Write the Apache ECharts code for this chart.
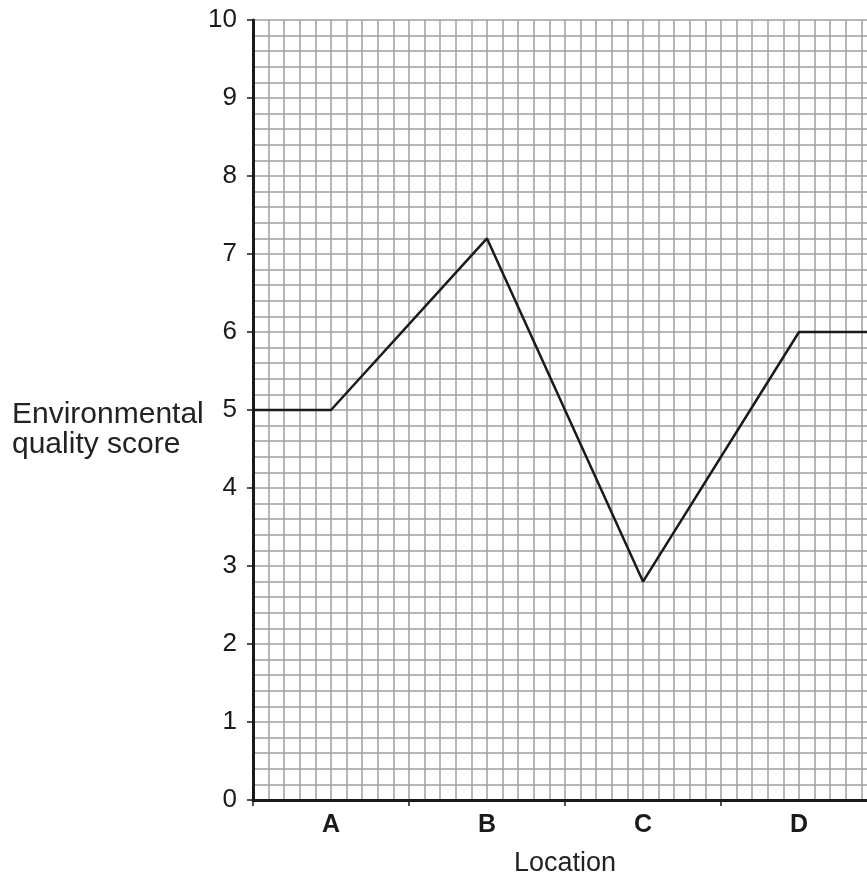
<!DOCTYPE html>
<html>
<head>
<meta charset="utf-8">
<script src="https://cdn.jsdelivr.net/npm/echarts@6/dist/echarts.min.js"></script>
<style>html,body{margin:0;padding:0;background:#fff;}#c{width:867px;height:879px;}</style>
</head>
<body>
<div id="c"></div>
<script>
var locations = ['A', 'B', 'C', 'D'];
var scores = [5, 7.2, 2.8, 6];
var yTicks = [0, 1, 2, 3, 4, 5, 6, 7, 8, 9, 10];

// Each location sits at the middle of its band (value-axis units: 2 per band)
var lineData = [[0, scores[0]]];
locations.forEach(function (l, i) { lineData.push([2 * i + 1, scores[i]]); });
lineData.push([2 * locations.length, scores[scores.length - 1]]);

var chart = echarts.init(document.getElementById('c'));
var gridCol = '#a0a0a0';
var ff = '"Liberation Sans", Arial, sans-serif';
chart.setOption({
  animation: false,
  backgroundColor: '#fff',
  grid: { left: 253, top: 20, width: 624, height: 780, outerBoundsMode: 'none', containLabel: false },
  xAxis: [
    {
      type: 'value', min: 0, max: 2 * locations.length, interval: 2,
      axisLine: { show: false }, axisTick: { show: false }, axisLabel: { show: false },
      splitLine: { show: true, lineStyle: { color: gridCol, width: 1.5 } },
      minorTick: { show: false, splitNumber: 10 },
      minorSplitLine: { show: true, lineStyle: { color: gridCol, width: 1.5 } }
    },
    {
      type: 'category', data: locations, boundaryGap: true, position: 'bottom',
      axisLine: { show: true, lineStyle: { color: '#1a1a1a', width: 3 } },
      axisTick: { show: true, length: 6, lineStyle: { color: '#1a1a1a', width: 1.5 } },
      axisLabel: { fontFamily: ff, fontSize: 25, fontWeight: 'bold', color: '#1a1a1a', margin: 13 },
      splitLine: { show: false },
      name: 'Location', nameLocation: 'middle', nameGap: 50,
      nameTextStyle: { fontFamily: ff, fontSize: 27, color: '#222' }
    }
  ],
  yAxis: {
    type: 'value', min: yTicks[0], max: yTicks[yTicks.length - 1], interval: 1,
    axisLine: { show: true, lineStyle: { color: '#1a1a1a', width: 3 } },
    axisTick: { show: true, length: 6, lineStyle: { color: '#1a1a1a', width: 1.5 } },
    axisLabel: { fontFamily: ff, fontSize: 26, color: '#1a1a1a', margin: 16 },
    splitLine: { show: true, lineStyle: { color: gridCol, width: 1.5 } },
    minorTick: { show: false, splitNumber: 5 },
    minorSplitLine: { show: true, lineStyle: { color: gridCol, width: 1.5 } }
  },
  graphic: [{
    type: 'text', left: 12, top: 400,
    style: {
      text: 'Environmental\nquality score',
      font: '30px ' + ff,
      fill: '#222', lineHeight: 30
    }
  }],
  series: [{
    type: 'line', xAxisIndex: 0, data: lineData, showSymbol: false, symbol: 'none',
    lineStyle: { color: '#1a1a1a', width: 2.5 }, z: 5
  }]
});
</script>
</body>
</html>
